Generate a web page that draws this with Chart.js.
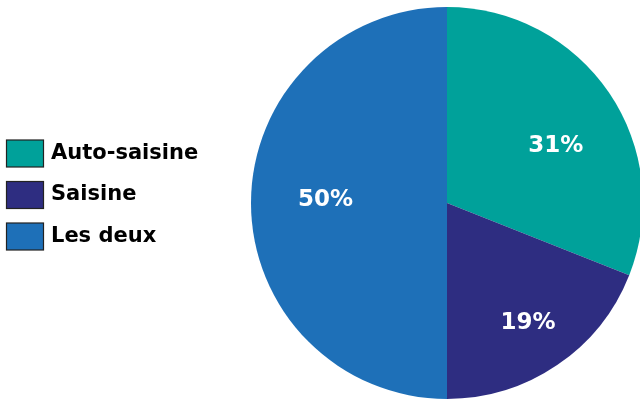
<!DOCTYPE html>
<html>
<head>
<meta charset="utf-8">
<script src="https://cdn.jsdelivr.net/npm/chart.js@4.4.1/dist/chart.umd.min.js"></script>
<style>
    html, body { margin: 0; padding: 0; background: #fff; overflow: hidden; }
    #wrap { position: absolute; left: 0; top: 0; width: 660px; height: 399px; }
</style>
</head>
<body>
<div id="wrap"><canvas id="pie" width="660" height="399"></canvas></div>
<script>
// --- Data ---
const categories = ['Auto-saisine', 'Saisine', 'Les deux'];
const shares = [31, 19, 50];
const sliceColors = ['#00A19A', '#2E2D81', '#1E70B8'];

// --- Label placement (fraction of radius, angle tweak in degrees) ---
const labelRadius = [0.63, 0.735, 0.62];
const labelAngleShift = [6, 0, 2];

/** Percent labels inside slices **/
const sliceLabels = {
    id: 'sliceLabels',
    afterDatasetsDraw(chart) {
        const ctx = chart.ctx;
        const arcs = chart.getDatasetMeta(0).data;
        ctx.save();
        ctx.fillStyle = '#fff';
        ctx.font = 'bold 23px "DejaVu Sans"';
        ctx.textAlign = 'center';
        ctx.textBaseline = 'middle';
        arcs.forEach((arc, i) => {
            const mid = (arc.startAngle + arc.endAngle) / 2 + labelAngleShift[i] * Math.PI / 180;
            const r = arc.outerRadius * labelRadius[i];
            ctx.fillText(shares[i] + '%', arc.x + Math.cos(mid) * r, arc.y + Math.sin(mid) * r + 1);
        });
        ctx.restore();
    }
};

/** Legend on the left **/
const sideLegend = {
    id: 'sideLegend',
    afterDraw(chart) {
        const ctx = chart.ctx;
        ctx.save();
        ctx.font = 'bold 21px "DejaVu Sans"';
        ctx.textBaseline = 'middle';
        categories.forEach((name, i) => {
            const top = 140 + i * 41.5;
            ctx.fillStyle = sliceColors[i];
            ctx.fillRect(6.5, top, 37, 27);
            ctx.strokeStyle = '#222';
            ctx.lineWidth = 1.2;
            ctx.strokeRect(6.5, top, 37, 27);
            ctx.fillStyle = '#000';
            ctx.fillText(name, 51, top + 13.5);
        });
        ctx.restore();
    }
};

new Chart(document.getElementById('pie'), {
    type: 'pie',
    data: {
        labels: categories,
        datasets: [{ data: shares, backgroundColor: sliceColors, borderWidth: 0 }]
    },
    options: {
        responsive: false,
        animation: false,
        layout: { padding: { left: 251, right: 17, top: 7, bottom: 0 } },
        plugins: { legend: { display: false }, tooltip: { enabled: false } }
    },
    plugins: [sliceLabels, sideLegend]
});
</script>
</body>
</html>
